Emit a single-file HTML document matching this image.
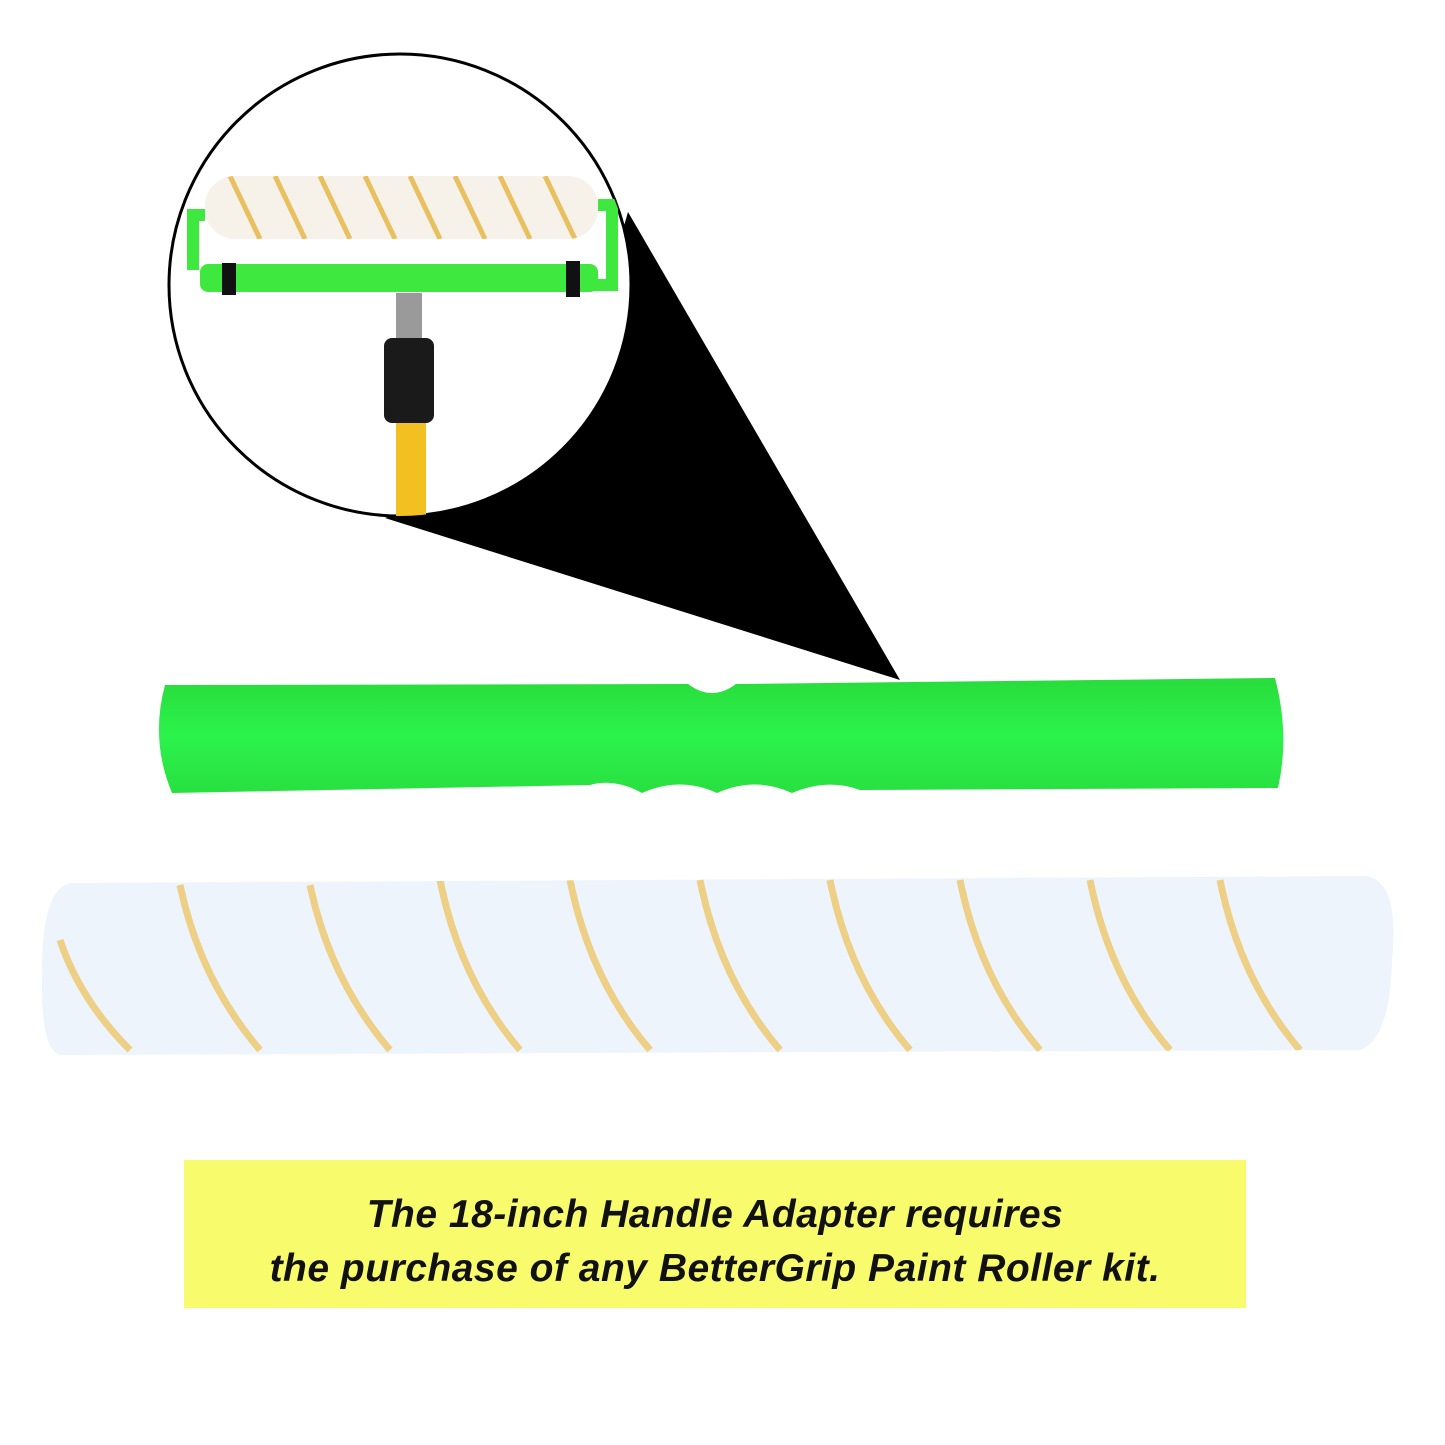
<!DOCTYPE html>
<html><head><meta charset="utf-8"><style>
html,body{margin:0;padding:0;background:#fff;width:1445px;height:1445px;overflow:hidden}
.box{position:absolute;left:184px;top:1160px;width:1062px;height:148px;background:#f8fc6c;
font-family:"Liberation Sans",sans-serif;font-weight:bold;font-style:italic;font-size:39px;color:#111;text-align:center;line-height:54px;padding-top:28px;box-sizing:border-box;letter-spacing:0.5px}
</style></head><body>
<svg width="1445" height="1445" style="position:absolute;left:0;top:0">
<defs>
<clipPath id="c"><circle cx="400" cy="285" r="231"/></clipPath>
<clipPath id="r1"><rect x="205" y="176" width="393" height="63" rx="30"/></clipPath>
<clipPath id="r2"><path d="M70 883 L1365 876 Q1400 880 1392 960 Q1390 1040 1360 1050 L60 1055 Q40 1050 42 970 Q42 890 70 883 Z"/></clipPath>
<linearGradient id="g" x1="0" y1="0" x2="0" y2="1"><stop offset="0" stop-color="#28dc3c"/><stop offset="0.5" stop-color="#2cf24c"/><stop offset="1" stop-color="#28e040"/></linearGradient>
</defs>
<polygon points="385,518 900,680 628,212 560,450" fill="#000"/>
<circle cx="400" cy="285" r="231" fill="#fff" stroke="#000" stroke-width="3"/>
<g clip-path="url(#c)">
<path d="M193 270 L193 215 L205 215" stroke="#3ee83e" stroke-width="12" fill="none"/>
<path d="M598 205 L612 205 L612 285 L580 285" stroke="#3ee83e" stroke-width="12" fill="none"/>
<rect x="200" y="264" width="398" height="28" rx="8" fill="#3ee83e"/>
<rect x="222" y="263" width="14" height="32" fill="#111"/>
<rect x="566" y="261" width="14" height="36" fill="#111"/>
<rect x="396" y="293" width="26" height="45" fill="#9a9a9a"/>
<rect x="384" y="338" width="50" height="85" rx="8" fill="#1a1a1a"/>
<rect x="396" y="423" width="30" height="100" fill="#f2c020"/>
<g clip-path="url(#r1)">
<rect x="205" y="176" width="393" height="63" fill="#f6f2ea"/>
<g stroke="#e8c060" stroke-width="5" fill="none">
<path d="M230 176 l30 63 M275 176 l30 63 M320 176 l30 63 M365 176 l30 63 M410 176 l30 63 M455 176 l30 63 M500 176 l30 63 M545 176 l30 63"/>
</g></g>
</g>
<path d="M165 685 L688 684 Q712 702 736 684 L1275 678 Q1290 735 1278 788 L860 790 Q828 778 792 793 Q755 776 717 793 Q680 776 642 793 Q615 778 590 785 L172 793 Q150 740 165 685 Z" fill="url(#g)"/>
<g clip-path="url(#r2)">
<rect x="40" y="870" width="1360" height="190" fill="#eef4fb"/>
<g stroke="#ecc870" stroke-width="7" fill="none" opacity="0.85">
<path d="M180 885 Q200 980 260 1050 M310 885 Q330 980 390 1050 M440 880 Q460 980 520 1050 M570 880 Q590 980 650 1050 M700 880 Q720 980 780 1050 M830 880 Q850 980 910 1050 M960 880 Q980 980 1040 1050 M1090 880 Q1110 980 1170 1050 M1220 880 Q1240 980 1300 1050 M60 940 Q80 1000 130 1050"/>
</g></g>
</svg>
<div class="box">The 18-inch Handle Adapter requires<br>the purchase of any BetterGrip Paint Roller kit.</div>
</body></html>
